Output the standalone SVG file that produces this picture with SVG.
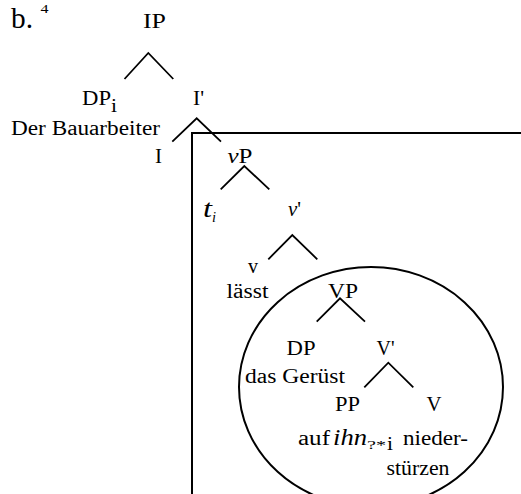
<svg xmlns="http://www.w3.org/2000/svg" width="521" height="494" viewBox="0 0 521 494">
<style>
text{font-family:"Liberation Serif","DejaVu Serif","Times New Roman",serif;font-size:20px;fill:#000}
.it{font-style:italic}
.br{fill:none;stroke:#000;stroke-width:1.8}
.frame{fill:none;stroke:#000;stroke-width:2}
</style>
<rect width="521" height="494" fill="#fff"/>
<g id="label">
<text x="11" y="28" style="font-size:29px" textLength="22" lengthAdjust="spacingAndGlyphs">b.</text>
<text x="40.5" y="13" style="font-size:13px" textLength="8" lengthAdjust="spacingAndGlyphs">4</text>
</g>
<g id="frame">
<path class="frame" d="M192,494 V133 H521"/>
<ellipse class="frame" cx="371" cy="387" rx="132" ry="120"/>
</g>
<g id="connectors">
<path class="br" d="M124.5,79 L148.3,53 L173.3,79"/>
<path class="br" d="M172.3,141.7 L196.7,118.3 L221,141.7"/>
<path class="br" d="M220.7,189.3 L244.3,166 L269.3,189.3"/>
<path class="br" d="M268.3,259.3 L292.3,235 L317.3,259.3"/>
<path class="br" d="M316.7,321.7 L340,298.3 L365,321.7"/>
<path class="br" d="M364.3,387.3 L388.3,362.7 L413.3,387.3"/>
</g>
<g id="n-IP"><text x="143" y="28" textLength="23" lengthAdjust="spacingAndGlyphs">IP</text></g>
<g id="n-DPi">
<text x="82" y="105" textLength="29" lengthAdjust="spacingAndGlyphs">DP</text>
<text x="111" y="112" style="font-size:19px" textLength="6" lengthAdjust="spacingAndGlyphs">i</text>
<text x="11" y="135" textLength="149" lengthAdjust="spacingAndGlyphs">Der Bauarbeiter</text>
</g>
<g id="n-Ibar"><text x="193" y="105" textLength="11" lengthAdjust="spacingAndGlyphs">I'</text></g>
<g id="n-I"><text x="155" y="163" textLength="7" lengthAdjust="spacingAndGlyphs">I</text></g>
<g id="n-vP"><text x="227.5" y="163" textLength="25" lengthAdjust="spacingAndGlyphs"><tspan class="it">v</tspan>P</text></g>
<g id="n-ti">
<text class="it" x="203" y="217" style="font-size:25px" textLength="9" lengthAdjust="spacingAndGlyphs">t</text>
<text class="it" x="212" y="222" style="font-size:14px" textLength="4" lengthAdjust="spacingAndGlyphs">i</text>
</g>
<g id="n-vbar"><text x="288" y="216" textLength="13" lengthAdjust="spacingAndGlyphs"><tspan class="it">v</tspan>'</text></g>
<g id="n-v">
<text x="248" y="273" textLength="10" lengthAdjust="spacingAndGlyphs">v</text>
<text x="226.5" y="298" textLength="42" lengthAdjust="spacingAndGlyphs">lässt</text>
</g>
<g id="n-VP"><text x="328" y="298" textLength="30" lengthAdjust="spacingAndGlyphs">VP</text></g>
<g id="n-DP">
<text x="286.5" y="355" textLength="29" lengthAdjust="spacingAndGlyphs">DP</text>
<text x="245" y="383" textLength="100" lengthAdjust="spacingAndGlyphs">das Gerüst</text>
</g>
<g id="n-Vbar"><text x="376.5" y="355" textLength="18" lengthAdjust="spacingAndGlyphs">V'</text></g>
<g id="n-PP">
<text x="335" y="411" textLength="25" lengthAdjust="spacingAndGlyphs">PP</text>
<text x="298" y="445" textLength="32" lengthAdjust="spacingAndGlyphs">auf</text>
<text class="it" x="333" y="445" style="font-size:23px" textLength="34" lengthAdjust="spacingAndGlyphs">ihn</text>
<text x="367" y="449" style="font-size:12px" textLength="19" lengthAdjust="spacingAndGlyphs">?*</text>
<text x="387" y="450" style="font-size:18px" textLength="6" lengthAdjust="spacingAndGlyphs">i</text>
</g>
<g id="n-V">
<text x="426.5" y="411" textLength="15" lengthAdjust="spacingAndGlyphs">V</text>
<text x="403" y="445" textLength="65" lengthAdjust="spacingAndGlyphs">nieder-</text>
<text x="386.5" y="475" textLength="63" lengthAdjust="spacingAndGlyphs">stürzen</text>
</g>
</svg>
